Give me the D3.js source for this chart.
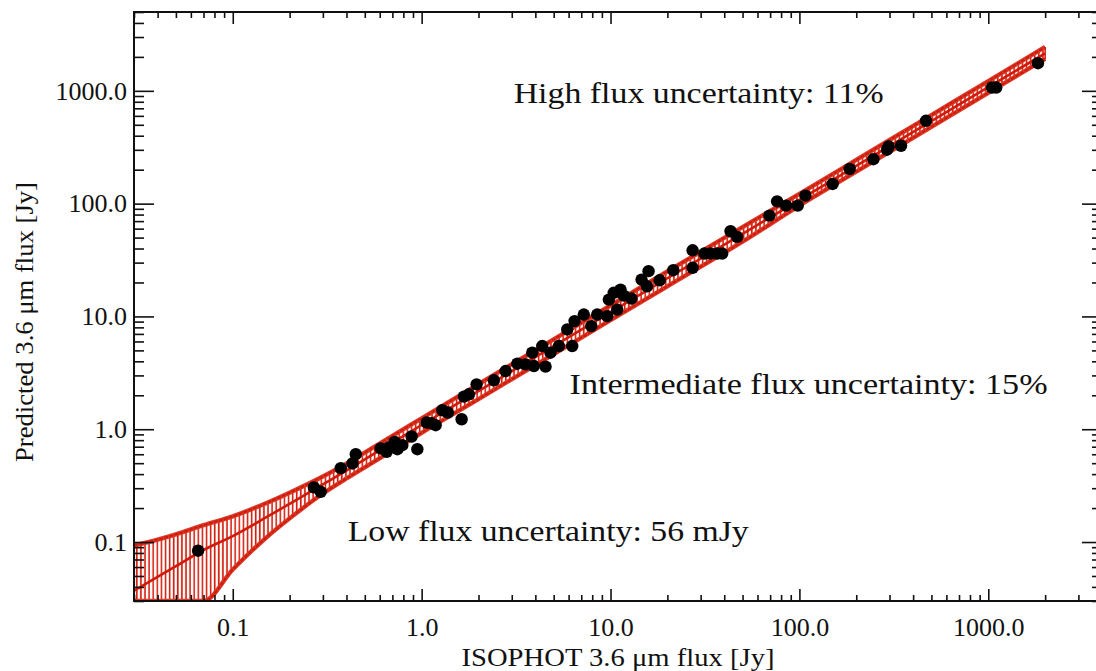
<!DOCTYPE html>
<html>
<head>
<meta charset="utf-8">
<script src="https://cdn.jsdelivr.net/npm/d3@7"></script>
<style>
  html, body { margin: 0; padding: 0; background: #fff; }
  svg { display: block; }
  text { font-family: "Liberation Serif", "DejaVu Serif", serif; fill: #111; }
</style>
</head>
<body>
<svg id="chart" width="1096" height="671"></svg>
<script>
// ---------- data ----------
const isoFlux = [0.0655, 0.269, 0.292, 0.373, 0.430, 0.448, 0.607, 0.653, 0.671, 0.720,
  0.744, 0.790, 0.885, 0.949, 1.063, 1.125, 1.186, 1.287, 1.377, 1.628,
  1.674, 1.780, 1.954, 2.413, 2.783, 3.21, 3.55, 3.85, 3.93, 4.35,
  4.53, 4.81, 5.33, 5.90, 6.27, 6.45, 7.22, 7.91, 8.50, 9.60,
  9.80, 10.4, 10.85, 11.3, 11.75, 12.9, 14.6, 15.6, 15.9, 18.2,
  21.5, 27.2, 27.2, 31.4, 33.8, 36.7, 39.0, 43.2, 46.8, 69.4,
  76.2, 85.1, 98.0, 107.6, 150.0, 184.6, 246.4, 291, 296.9, 345.2,
  468, 1046, 1102, 1832];
const predFlux = [0.0838, 0.305, 0.279, 0.452, 0.497, 0.601, 0.675, 0.630, 0.689, 0.772,
  0.665, 0.722, 0.862, 0.665, 1.146, 1.130, 1.085, 1.473, 1.405, 1.226,
  1.947, 2.04, 2.50, 2.715, 3.28, 3.81, 3.76, 4.77, 3.63, 5.46,
  3.59, 4.77, 5.46, 7.67, 5.46, 9.09, 10.4, 8.21, 10.4, 10.06,
  14.1, 16.2, 11.5, 17.3, 15.3, 14.4, 21.2, 18.5, 25.2, 20.9,
  25.7, 38.6, 27.0, 36.1, 36.1, 36.1, 36.1, 56.9, 50.7, 78.3,
  104.8, 96.0, 96.0, 117.7, 149.4, 202.9, 247.7, 300.6, 321.4, 326,
  542.7, 1070, 1070, 1759];

// uncertainty band: flux grid, lower / centre / upper predicted flux
const bandX    = [0.03, 0.04, 0.05, 0.07, 0.1, 0.15, 0.2, 0.3, 0.4, 0.5, 0.7, 1, 2, 5, 10, 20, 50, 100, 200, 500, 1000, 2000];
const bandLow  = [0.03, 0.03, 0.03, 0.03, 0.057, 0.109, 0.162, 0.269, 0.366, 0.459, 0.646, 0.93, 1.85, 4.63, 9.27, 18.5, 46, 96, 192, 480, 960, 1920];
const bandMid  = [0.037, 0.049, 0.061, 0.085, 0.113, 0.165, 0.218, 0.325, 0.43, 0.54, 0.76, 1.09, 2.18, 5.45, 10.9, 21.8, 54, 108, 216, 540, 1080, 2150];
const bandHigh = [0.093, 0.105, 0.117, 0.141, 0.169, 0.221, 0.274, 0.381, 0.495, 0.621, 0.874, 1.25, 2.51, 6.27, 12.5, 25.1, 62, 122, 244, 610, 1220, 2450];

const xTickValues = [0.1, 1, 10, 100, 1000];
const xTickLabels = ["0.1", "1.0", "10.0", "100.0", "1000.0"];
const yTickValues = [0.1, 1, 10, 100, 1000];
const yTickLabels = ["0.1", "1.0", "10.0", "100.0", "1000.0"];

const xTitle = "ISOPHOT 3.6 \u03bcm flux [Jy]";
const yTitle = "Predicted 3.6 \u03bcm flux [Jy]";
const notes = [
  { text: "High flux uncertainty: 11%", x: 3.07, y: 783, len: 370 },
  { text: "Intermediate flux uncertainty: 15%", x: 6.07, y: 2.04, len: 478 },
  { text: "Low flux uncertainty: 56 mJy", x: 0.406, y: 0.102, len: 401 }
];

// ---------- layout ----------
const L = 134, R = 1102, T = 12, B = 601;
const svg = d3.select("#chart");
const x = d3.scaleLog().domain([0.03, 4000]).range([L, R]);
const y = d3.scaleLog().domain([0.03, 5000]).range([B, T]);
const yc = y.copy().clamp(true);

const defs = svg.append("defs");
defs.append("clipPath").attr("id", "plotclip")
  .append("rect").attr("x", L).attr("y", T).attr("width", R - L).attr("height", B - T);
const pat = defs.append("pattern").attr("id", "hatch")
  .attr("patternUnits", "userSpaceOnUse").attr("width", 4.1).attr("height", 8);
pat.append("line").attr("x1", 1.5).attr("x2", 1.5).attr("y1", 0).attr("y2", 8)
  .attr("stroke", "#d41c0c").attr("stroke-width", 1.6);

const red = "#d01a0a";
const band = bandX.map((v, i) => ({ x: v, lo: bandLow[i], mid: bandMid[i], hi: bandHigh[i] }));
const g = svg.append("g").attr("clip-path", "url(#plotclip)");

g.append("path").datum(band)
  .attr("d", d3.area().x(d => x(d.x)).y0(d => yc(d.lo)).y1(d => yc(d.hi)).curve(d3.curveMonotoneX))
  .attr("fill", "url(#hatch)");
// error-bar caps along both edges
["hi", "lo"].forEach(k => {
  g.append("path").datum(band)
    .attr("d", d3.line().x(d => x(d.x)).y(d => yc(d[k])).curve(d3.curveMonotoneX))
    .attr("fill", "none").attr("stroke", "#da3a28").attr("stroke-width", 4.4);
  g.append("path").datum(band)
    .attr("d", d3.line().x(d => x(d.x)).y(d => yc(d[k])).curve(d3.curveMonotoneX))
    .attr("fill", "none").attr("stroke", red).attr("stroke-width", 2)
    .attr("stroke-dasharray", "4,1.2");
});
g.append("path").datum(band)
  .attr("d", d3.line().x(d => x(d.x)).y(d => yc(d.mid)).curve(d3.curveMonotoneX))
  .attr("fill", "none").attr("stroke", red).attr("stroke-width", 2.6);

// end bar of the last error bar
const last = band[band.length - 1];
g.append("line").attr("x1", x(last.x)).attr("x2", x(last.x))
  .attr("y1", y(last.lo)).attr("y2", y(last.hi)).attr("stroke", red).attr("stroke-width", 1.5);

// points
g.selectAll("circle.pt").data(isoFlux.map((v, i) => [v, predFlux[i]]))
  .enter().append("circle").attr("class", "pt")
  .attr("cx", d => x(d[0])).attr("cy", d => y(d[1])).attr("r", 6.2).attr("fill", "#000");

// ---------- axes ----------
const minorX = x.ticks().filter(t => !xTickValues.some(m => Math.abs(m - t) / m < 1e-6));
const minorY = y.ticks().filter(t => !yTickValues.some(m => Math.abs(m - t) / m < 1e-6));
const styleAxis = sel => {
  sel.select(".domain").remove();
  sel.selectAll("line").attr("stroke", "#111").attr("stroke-width", 1.6);
  sel.selectAll("text").style("font-family", '"Liberation Serif", serif').style("font-size", "26px").attr("fill", "#111");
};

// bottom
svg.append("g").attr("transform", `translate(0,${B})`)
  .call(d3.axisBottom(x).tickValues(xTickValues).tickFormat((d, i) => xTickLabels[i]).tickSize(-12).tickPadding(17))
  .call(styleAxis);
svg.append("g").attr("transform", `translate(0,${B})`)
  .call(d3.axisBottom(x).tickValues(minorX).tickFormat("").tickSize(-6)).call(styleAxis);
// top
svg.append("g").attr("transform", `translate(0,${T})`)
  .call(d3.axisTop(x).tickValues(xTickValues).tickFormat("").tickSize(-12)).call(styleAxis);
svg.append("g").attr("transform", `translate(0,${T})`)
  .call(d3.axisTop(x).tickValues(minorX).tickFormat("").tickSize(-6)).call(styleAxis);
// left
svg.append("g").attr("transform", `translate(${L},0)`)
  .call(d3.axisLeft(y).tickValues(yTickValues).tickFormat((d, i) => yTickLabels[i]).tickSize(-20).tickPadding(7))
  .call(styleAxis);
svg.append("g").attr("transform", `translate(${L},0)`)
  .call(d3.axisLeft(y).tickValues(minorY).tickFormat("").tickSize(-10)).call(styleAxis);
// right
svg.append("g").attr("transform", `translate(${R},0)`)
  .call(d3.axisRight(y).tickValues(yTickValues).tickFormat("").tickSize(-20)).call(styleAxis);
svg.append("g").attr("transform", `translate(${R},0)`)
  .call(d3.axisRight(y).tickValues(minorY).tickFormat("").tickSize(-10)).call(styleAxis);

// frame
svg.append("rect").attr("x", L).attr("y", T).attr("width", R - L).attr("height", B - T)
  .attr("fill", "none").attr("stroke", "#111").attr("stroke-width", 2);

// titles
svg.append("text").attr("x", (L + R) / 2).attr("y", 666).attr("text-anchor", "middle")
  .attr("textLength", 313).attr("lengthAdjust", "spacingAndGlyphs")
  .style("font-size", "26px").text(xTitle);
svg.append("text").attr("transform", `translate(33,322) rotate(-90)`)
  .attr("text-anchor", "middle").attr("textLength", 280).attr("lengthAdjust", "spacingAndGlyphs")
  .style("font-size", "26px").text(yTitle);

// annotations
svg.selectAll("text.note").data(notes).enter().append("text").attr("class", "note")
  .attr("x", d => x(d.x)).attr("y", d => y(d.y))
  .attr("textLength", d => d.len).attr("lengthAdjust", "spacingAndGlyphs")
  .style("font-size", "30px").text(d => d.text);
</script>
</body>
</html>
